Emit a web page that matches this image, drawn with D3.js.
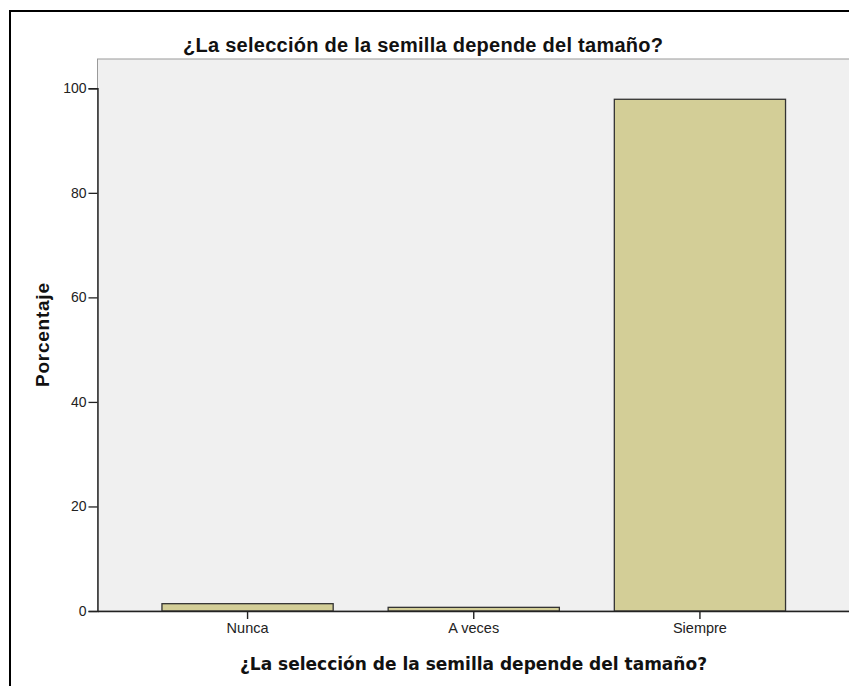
<!DOCTYPE html>
<html><head><meta charset="utf-8">
<script src="https://cdn.jsdelivr.net/npm/d3@7"></script>
<style>body{margin:0;background:#fff;} svg{display:block;}</style>
</head><body>
<script>
const categories = ["Nunca", "A veces", "Siempre"];
const values = [1.4, 0.7, 97.9];
const yTicks = [0, 20, 40, 60, 80, 100];
const title = "¿La selección de la semilla depende del tamaño?";
const xTitle = "¿La selección de la semilla depende del tamaño?";
const yTitle = "Porcentaje";

(function () {
const W = 849, H = 686;
const svg = d3.select("body").append("svg").attr("width", W).attr("height", H);
svg.append("rect").attr("width", W).attr("height", H).attr("fill", "#fff");
svg.append("rect").attr("x", 10).attr("y", 11).attr("width", 850).attr("height", 700)
  .attr("fill", "none").attr("stroke", "#000").attr("stroke-width", 2);

const pL = 97.5, pR = 850, pT = 59, pB = 611;
const x = d3.scaleBand().domain(categories).range([pL, pR]).paddingInner(0.243).paddingOuter(0.285);
const y = d3.scaleLinear().domain([0, 100]).range([pB, 88.3]);

svg.append("rect").attr("x", pL).attr("y", pT).attr("width", pR - pL).attr("height", pB - pT)
  .attr("fill", "#f0f0f0").attr("stroke", "#9a9a9a").attr("stroke-width", 1);

svg.selectAll("rect.bar").data(values).enter().append("rect").attr("class", "bar")
  .attr("x", (d, i) => x(categories[i]))
  .attr("width", x.bandwidth())
  .attr("y", d => y(d))
  .attr("height", d => y(0) - y(d))
  .attr("fill", "#d3ce97").attr("stroke", "#333").attr("stroke-width", 1.3);

const font = "Arial, 'Liberation Sans', sans-serif";
const yAxis = d3.axisLeft(y).tickValues(yTicks).tickSize(9).tickPadding(2);
const gy = svg.append("g").attr("transform", `translate(${pL},0)`).call(yAxis);
gy.select(".domain").attr("stroke", "#222").attr("stroke-width", 1.4);
gy.selectAll(".tick line").attr("stroke", "#222").attr("stroke-width", 1.3);
gy.selectAll(".tick text").attr("font-family", font).attr("font-size", 14).attr("fill", "#222");

const xAxis = d3.axisBottom(x).tickSize(8).tickPadding(4).tickSizeOuter(0);
const gx = svg.append("g").attr("transform", `translate(0,${pB})`).call(xAxis);
gx.select(".domain").attr("stroke", "#222").attr("stroke-width", 1.6);
gx.selectAll(".tick line").attr("stroke", "#222").attr("stroke-width", 1.4);
gx.selectAll(".tick text").attr("font-family", font).attr("font-size", 14.5).attr("fill", "#222");

svg.append("text").attr("x", 423).attr("y", 51.5).attr("text-anchor", "middle")
  .attr("font-family", font).attr("font-weight", "bold").attr("font-size", 20)
  .attr("textLength", 480).attr("lengthAdjust", "spacing")
  .attr("fill", "#111").text(title);

svg.append("text").attr("x", 473.5).attr("y", 670).attr("text-anchor", "middle")
  .attr("font-family", "'DejaVu Sans', Verdana, sans-serif").attr("font-weight", "bold").attr("font-size", 17)
  .attr("textLength", 467).attr("lengthAdjust", "spacingAndGlyphs")
  .attr("fill", "#111").text(xTitle);

svg.append("text").attr("transform", `translate(49,${335}) rotate(-90)`).attr("text-anchor", "middle")
  .attr("font-family", font).attr("font-weight", "bold").attr("font-size", 19)
  .attr("textLength", 104).attr("lengthAdjust", "spacing")
  .attr("fill", "#111").text(yTitle);
})();
</script>
</body></html>
